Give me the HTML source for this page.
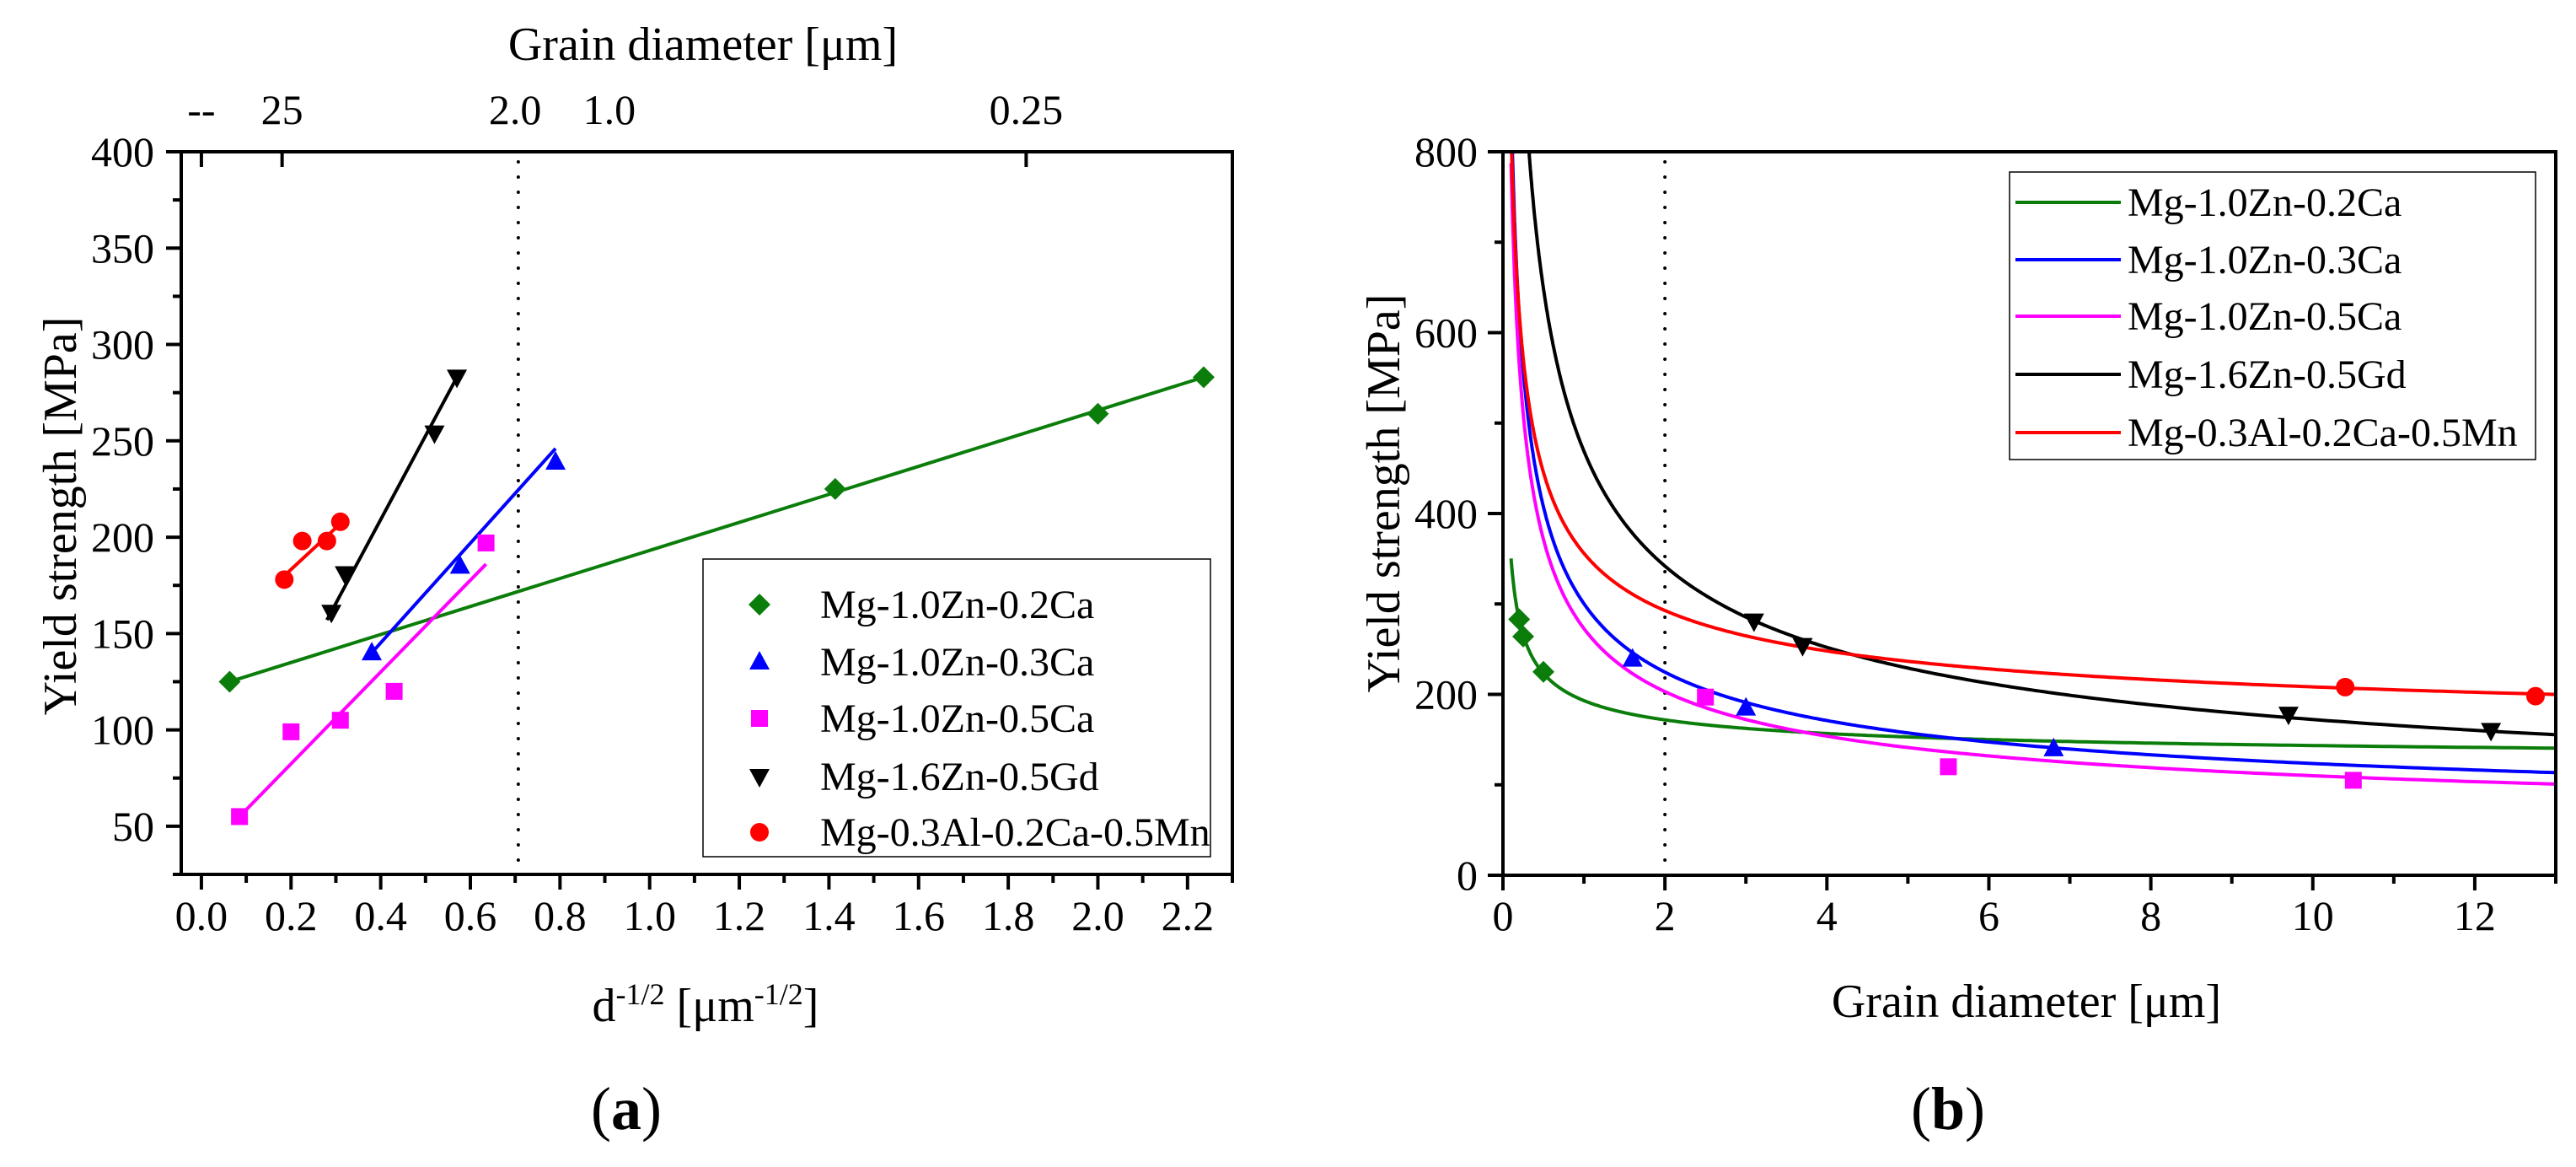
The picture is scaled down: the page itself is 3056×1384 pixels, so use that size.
<!DOCTYPE html>
<html><head><meta charset="utf-8"><style>
html,body{margin:0;padding:0;background:#fff}
svg{display:block}
text{font-family:"Liberation Serif",serif;fill:#000}
</style></head><body>
<svg id="fig" width="3056" height="1384" viewBox="0 0 3056 1384" xmlns="http://www.w3.org/2000/svg">
<g id="pa"></g>
<g id="pb"></g>
</svg>
<script>
const NS="http://www.w3.org/2000/svg";
// ---- data ----
const seriesNames=["Mg-1.0Zn-0.2Ca","Mg-1.0Zn-0.3Ca","Mg-1.0Zn-0.5Ca","Mg-1.6Zn-0.5Gd","Mg-0.3Al-0.2Ca-0.5Mn"];
const seriesColors=["#0a7d0a","#0000ff","#ff00ff","#000000","#ff0000"];
const seriesMarkers=["diamond","up","square","down","circle"];
// panel a points (d^-1/2, yield)
const aX=[[0.063,1.414,2.0,2.236],[0.38,0.577,0.79],[0.085,0.2,0.31,0.43,0.635],[0.29,0.32,0.52,0.57],[0.185,0.225,0.28,0.31]];
const aY=[[125,225,264,283],[140,185,239],[55,99,105,120,197],[161,181,254,283],[178,198,198,208]];
// fit lines (x1,y1,x2,y2)
const fitX1=[0.063,0.38,0.085,0.28,0.185];
const fitY1=[125,140,55,157,180];
const fitX2=[2.236,0.79,0.635,0.57,0.31];
const fitY2=[283,246,186,283,207];
// panel b points (grain diameter, yield)
const bX=[[0.2,0.25,0.5],[1.6,3.0,6.8],[2.5,5.5,10.5],[3.1,3.7,9.7,12.2],[10.4,12.75]];
const bY=[[283,264,225],[239,185,140],[197,120,105],[281,254,178,160],[208,198]];
// Hall-Petch parameters: sigma0 + k/sqrt(d)
const hpSigma0=[120.4,41.8,34.8,35,140];
const hpK=[72.7,258.5,238,434,216];
const hpStart=[0.1,0.1,0.1,0.1,0.1];
const aXTicks=["0.0","0.2","0.4","0.6","0.8","1.0","1.2","1.4","1.6","1.8","2.0","2.2"];
const aYTicks=[50,100,150,200,250,300,350,400];
const topLabels=["--","25","2.0","1.0","0.25"];
const topPos=[0.0,0.18,0.7,0.91,1.84];
const bXTicks=[0,2,4,6,8,10,12];
const bYTicks=[0,200,400,600,800];

function el(parent,tag,attrs,text){const e=document.createElementNS(NS,tag);for(const k in attrs)e.setAttribute(k,attrs[k]);if(text!==undefined)e.textContent=text;parent.appendChild(e);return e;}

function marker(g,type,cx,cy,color){
  let m;
  if(type==="square") m=el(g,"rect",{x:cx-10,y:cy-10,width:20,height:20,fill:color});
  else if(type==="circle") m=el(g,"circle",{cx:cx,cy:cy,r:11,fill:color});
  else if(type==="diamond") m=el(g,"polygon",{points:`${cx},${cy-13} ${cx+13},${cy} ${cx},${cy+13} ${cx-13},${cy}`,fill:color});
  else if(type==="up") m=el(g,"polygon",{points:`${cx},${cy-13} ${cx+12},${cy+9} ${cx-12},${cy+9}`,fill:color});
  else m=el(g,"polygon",{points:`${cx},${cy+13} ${cx+12},${cy-9} ${cx-12},${cy-9}`,fill:color});
  
  
  return m;
}

// ---- panel a ----
(function(){
  const g=document.getElementById("pa");
  const L=215,R=1462,T=180,B=1037,xmin=-0.045,xmax=2.3,ymin=25,ymax=400;
  const sx=v=>L+(v-xmin)/(xmax-xmin)*(R-L);
  const sy=v=>B-(v-ymin)/(ymax-ymin)*(B-T);
  // dotted line
  el(g,"line",{x1:sx(0.707),x2:sx(0.707),y1:T+12,y2:B,stroke:"#000","stroke-width":4,"stroke-dasharray":"0 18","stroke-linecap":"round",});
  // ticks
  for(let i=0;i<=23;i++){const v=i*0.1;const x=sx(v);const maj=i%2===0;
    el(g,"line",{x1:x,x2:x,y1:B,y2:B+(maj?18:10),stroke:"#000","stroke-width":4});}
  aXTicks.forEach(t=>{const e=el(g,"text",{x:sx(parseFloat(t)),y:1103,"font-size":50,"text-anchor":"middle"},t);
    });
  for(let v=25;v<=400;v+=25){const y=sy(v);const maj=v%50===0;
    el(g,"line",{x1:L,x2:L-(maj?18:10),y1:y,y2:y,stroke:"#000","stroke-width":4});}
  aYTicks.forEach(v=>{const e=el(g,"text",{x:183,y:sy(v)+17,"font-size":50,"text-anchor":"end"},v);
    });
  // top axis
  topLabels.forEach((t,i)=>{const x=sx(topPos[i]);
    if(t!=="2.0"&&t!=="1.0") el(g,"line",{x1:x,x2:x,y1:T,y2:T+18,stroke:"#000","stroke-width":4});
    const e=el(g,"text",{x:x,y:147,"font-size":50,"text-anchor":"middle"},t);
    });
  // fits & points
  for(let s=0;s<5;s++){
    const ln=el(g,"line",{x1:sx(fitX1[s]),y1:sy(fitY1[s]),x2:sx(fitX2[s]),y2:sy(fitY2[s]),stroke:seriesColors[s],"stroke-width":4});
    
    aX[s].forEach((x,i)=>marker(g,seriesMarkers[s],sx(x),sy(aY[s][i]),seriesColors[s]));
  }
  el(g,"rect",{x:L,y:T,width:R-L,height:B-T,fill:"none",stroke:"#000","stroke-width":4,});
  // legend
  const lg=el(g,"g",{});
  el(lg,"rect",{x:834,y:663,width:602,height:353,fill:"#fff",stroke:"#000","stroke-width":1.5});
  const rows=[717,785,852,921,987];
  seriesNames.forEach((n,i)=>{marker(lg,seriesMarkers[i],901,rows[i],seriesColors[i]);
    const e=el(lg,"text",{x:973,y:rows[i]+16,"font-size":48},n);
    });
  el(g,"text",{x:834,y:71,"font-size":56,"text-anchor":"middle",},"Grain diameter [μm]");
  const yt=el(g,"text",{x:0,y:0,"font-size":56,"text-anchor":"middle",transform:"translate(90,612) rotate(-90)",},"Yield strength [MPa]");
  const xt=el(g,"text",{x:837,y:1211,"font-size":56,"text-anchor":"middle",});
  xt.innerHTML='d<tspan dy="-20" font-size="36">-1/2</tspan><tspan dy="20"> [μm</tspan><tspan dy="-20" font-size="36">-1/2</tspan><tspan dy="20">]</tspan>';
  el(g,"text",{x:743,y:1339,"font-size":72,"text-anchor":"middle",}).innerHTML='(<tspan font-weight="bold">a</tspan>)';
})();

// ---- panel b ----
(function(){
  const g=document.getElementById("pb");
  const L=1783,R=3032,T=180,B=1038,xmin=0,xmax=13,ymin=0,ymax=800;
  const sx=v=>L+(v-xmin)/(xmax-xmin)*(R-L);
  const sy=v=>B-(v-ymin)/(ymax-ymin)*(B-T);
  el(g,"line",{x1:sx(2),x2:sx(2),y1:T+12,y2:B,stroke:"#000","stroke-width":4,"stroke-dasharray":"0 18","stroke-linecap":"round",});
  for(let v=0;v<=13;v++){const x=sx(v);const maj=v%2===0;
    el(g,"line",{x1:x,x2:x,y1:B,y2:B+(maj?18:10),stroke:"#000","stroke-width":4});}
  bXTicks.forEach(v=>{const e=el(g,"text",{x:sx(v),y:1103,"font-size":50,"text-anchor":"middle"},v);
    });
  for(let v=0;v<=800;v+=100){const y=sy(v);const maj=v%200===0;
    el(g,"line",{x1:L,x2:L-(maj?18:10),y1:y,y2:y,stroke:"#000","stroke-width":4});}
  bYTicks.forEach(v=>{const e=el(g,"text",{x:1753,y:sy(v)+17,"font-size":50,"text-anchor":"end"},v);
    });
  const defs=el(g,"defs",{});const cp=el(defs,"clipPath",{id:"clipb"});
  el(cp,"rect",{x:L,y:T,width:R-L,height:B-T});
  const cg=el(g,"g",{"clip-path":"url(#clipb)"});
  for(let s=0;s<5;s++){
    let d="";
    for(let i=0;i<=600;i++){const x=hpStart[s]*Math.pow(13/hpStart[s],i/600);
      const y=hpSigma0[s]+hpK[s]/Math.sqrt(x);
      d+=(i?"L":"M")+sx(x).toFixed(1)+","+sy(Math.min(y,1000)).toFixed(1);}
    const p=el(cg,"path",{d:d,fill:"none",stroke:seriesColors[s],"stroke-width":4});
    
    bX[s].forEach((x,i)=>marker(g,seriesMarkers[s],sx(x),sy(bY[s][i]),seriesColors[s]));
  }
  el(g,"rect",{x:L,y:T,width:R-L,height:B-T,fill:"none",stroke:"#000","stroke-width":4,});
  const lg=el(g,"g",{});
  el(lg,"rect",{x:2384,y:204,width:624,height:341,fill:"#fff",stroke:"#000","stroke-width":1.5});
  const rows=[240,308,375,444,513];
  seriesNames.forEach((n,i)=>{el(lg,"line",{x1:2391,x2:2516,y1:rows[i],y2:rows[i],stroke:seriesColors[i],"stroke-width":4});
    const e=el(lg,"text",{x:2524,y:rows[i]+16,"font-size":48},n);
    });
  el(g,"text",{x:0,y:0,"font-size":56,"text-anchor":"middle",transform:"translate(1660,585) rotate(-90)",},"Yield strength [MPa]");
  el(g,"text",{x:2404,y:1206,"font-size":56,"text-anchor":"middle",},"Grain diameter [μm]");
  el(g,"text",{x:2311,y:1339,"font-size":72,"text-anchor":"middle",}).innerHTML='(<tspan font-weight="bold">b</tspan>)';
})();
</script>
</body></html>
